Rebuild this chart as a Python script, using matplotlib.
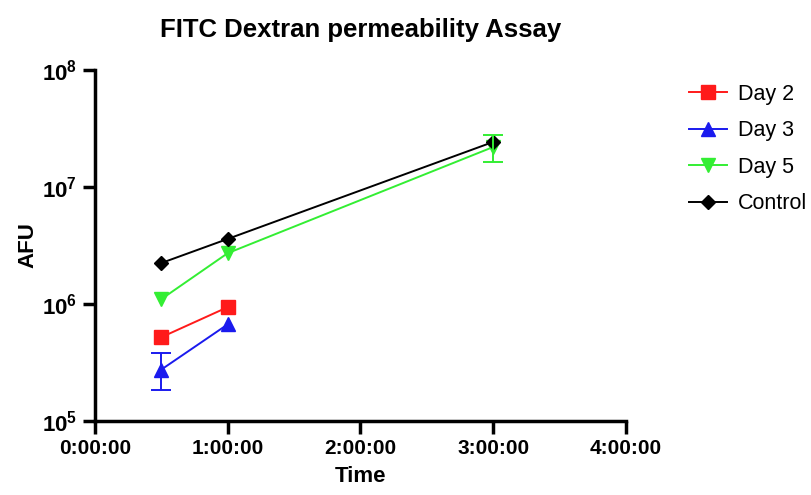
import numpy as np
import matplotlib
matplotlib.use("Agg")
import matplotlib.pyplot as plt
from matplotlib.ticker import FuncFormatter, FixedLocator, NullLocator

plt.rcParams['font.family'] = ['Liberation Sans', 'DejaVu Sans']
plt.rcParams['mathtext.fontset'] = 'custom'
plt.rcParams['mathtext.bf'] = 'Liberation Sans:bold'
plt.rcParams['mathtext.rm'] = 'Liberation Sans'

# time in hours
t_day2 = [0.5, 1.0]
t_day3 = [0.5, 1.0]
t_day5 = [0.5, 1.0, 3.0]
t_ctrl = [0.5, 1.0, 3.0]

day2 = [5.2e5, 9.4e5]
day3 = [2.75e5, 6.7e5]
day5 = [1.1e6, 2.72e6, 2.2e7]
ctrl = [2.24e6, 3.6e6, 2.43e7]

# error bars where visible (time, lower, upper)
day3_err_t = [0.5]
day3_err_lo = [0.92e5]
day3_err_hi = [1.05e5]
day5_err_t = [3.0]
day5_err_lo = [0.55e7]
day5_err_hi = [0.6e7]

series = ["Day 2", "Day 3", "Day 5", "Control"]
yticks = [1e5, 1e6, 1e7, 1e8]
ylabels = ["$\\mathbf{10^{5}}$", "$\\mathbf{10^{6}}$", "$\\mathbf{10^{7}}$", "$\\mathbf{10^{8}}$"]

fig = plt.figure(figsize=(8.11, 4.95), dpi=100)
ax = fig.add_axes([0.117, 0.1495, 0.655, 0.709])

ax.plot(t_day2, day2, color="#ff1a1a", marker="s", ms=10, lw=1.4, label=series[0])
ax.plot(t_day3, day3, color="#1a1aee", marker="^", ms=10, lw=1.4, label=series[1])
ax.plot(t_day5, day5, color="#33ee33", marker="v", ms=10, lw=1.4, label=series[2])
ax.plot(t_ctrl, ctrl, color="black", marker="D", ms=7, lw=1.4, label=series[3])

d3_y = [day3[t_day3.index(t)] for t in day3_err_t]
d5_y = [day5[t_day5.index(t)] for t in day5_err_t]
ax.errorbar(day3_err_t, d3_y, yerr=[day3_err_lo, day3_err_hi], fmt="none",
            ecolor="#1a1aee", capsize=7, elinewidth=1.4, capthick=1.4)
ax.errorbar(day5_err_t, d5_y, yerr=[day5_err_lo, day5_err_hi], fmt="none",
            ecolor="#33ee33", capsize=7, elinewidth=1.4, capthick=1.4)

ax.set_yscale("log")
ax.set_ylim(1e5, 1e8)
ax.set_xlim(0, 4)
ax.yaxis.set_major_locator(FixedLocator(yticks))
ax.yaxis.set_minor_locator(NullLocator())
ax.set_yticklabels(ylabels)
ax.set_xticks([0, 1, 2, 3, 4])
ax.xaxis.set_major_formatter(FuncFormatter(lambda v, p: "%d:00:00" % int(round(v))))

for s in ["top", "right"]:
    ax.spines[s].set_visible(False)
for s in ["left", "bottom"]:
    ax.spines[s].set_linewidth(2.5)
ax.tick_params(width=2.5, length=9, labelsize=15, pad=4)
ax.tick_params(axis="y", labelsize=16)
for lab in ax.get_xticklabels():
    lab.set_fontweight("bold")
for line in ax.get_lines():
    line.set_clip_on(False)

ax.set_xlabel("Time", fontsize=16, fontweight="bold", labelpad=6)
ax.set_ylabel("AFU", fontsize=16, fontweight="bold", labelpad=2)
ax.set_title("FITC Dextran permeability Assay", fontsize=18.5, fontweight="bold", pad=24)

fig.legend(loc="upper left", bbox_to_anchor=(0.826, 0.87),
           frameon=False, fontsize=15.5, handlelength=1.75, labelspacing=0.72,
           handletextpad=0.5)

fig.savefig("out.png", dpi=100)
